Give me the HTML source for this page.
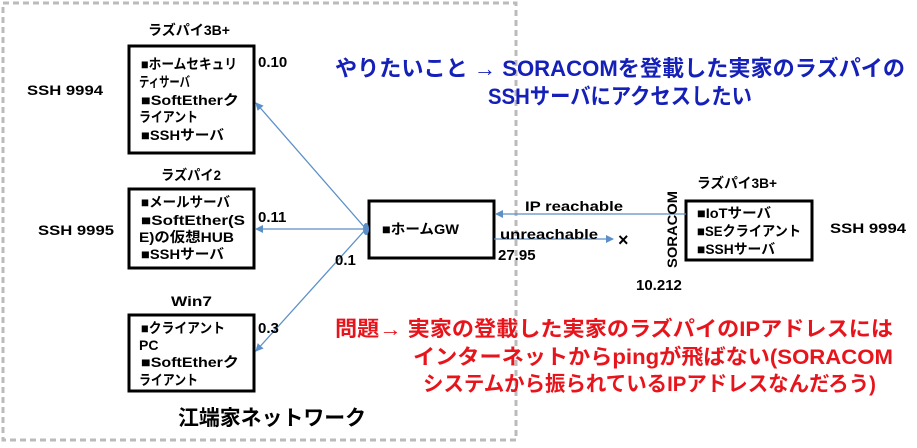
<!DOCTYPE html>
<html><head><meta charset="utf-8"><style>
html,body{margin:0;padding:0;background:#fff;}
svg{display:block;}
text{font-family:"Liberation Sans","Noto Sans CJK JP",sans-serif;font-weight:bold;}
</style></head><body>
<svg width="917" height="448" viewBox="0 0 917 448" xmlns="http://www.w3.org/2000/svg">
<defs>
<marker id="a" markerWidth="8" markerHeight="8" refX="7" refY="4" orient="auto" markerUnits="userSpaceOnUse"><path d="M0,0 L8,4 L0,8 Z" fill="#5b8fc8"/></marker>
</defs>
<rect x="3" y="3" width="513" height="437" fill="none" stroke="#bbb" stroke-width="3" stroke-dasharray="6,4"/>
<g fill="none" stroke="#000" stroke-width="3">
<rect x="129" y="46" width="125" height="107"/>
<rect x="129" y="189" width="125" height="79"/>
<rect x="129" y="315" width="125" height="76"/>
<rect x="369" y="201" width="125" height="57"/>
<rect x="686" y="201" width="126" height="59"/>
</g>
<g stroke="#5b8fc8" stroke-width="1.3" fill="none">
<line x1="366" y1="229" x2="256" y2="103" marker-end="url(#a)"/>
<line x1="366" y1="229" x2="256" y2="229" marker-end="url(#a)"/>
<line x1="366" y1="229" x2="256" y2="351" marker-end="url(#a)"/>
<line x1="686" y1="214" x2="496" y2="214" marker-end="url(#a)"/>
<line x1="494" y1="239" x2="613" y2="239" marker-end="url(#a)"/>
</g>
<ellipse cx="366" cy="229" rx="3" ry="6" fill="#5b8fc8"/>
<g font-size="14" fill="#000">
<text x="148" y="35" textLength="82" lengthAdjust="spacingAndGlyphs">ラズパイ3B+</text>
<text x="141" y="69" textLength="96" lengthAdjust="spacingAndGlyphs">■ホームセキュリ</text>
<text x="139" y="87" textLength="51" lengthAdjust="spacingAndGlyphs">ティサーバ</text>
<text x="141" y="105" textLength="98" lengthAdjust="spacingAndGlyphs">■SoftEtherク</text>
<text x="139" y="122" textLength="59" lengthAdjust="spacingAndGlyphs">ライアント</text>
<text x="141" y="140" textLength="83" lengthAdjust="spacingAndGlyphs">■SSHサーバ</text>
<text x="258" y="67" font-size="15">0.10</text>
<text x="27" y="95" textLength="76" lengthAdjust="spacingAndGlyphs">SSH 9994</text>
<text x="161" y="180" textLength="60" lengthAdjust="spacingAndGlyphs">ラズパイ2</text>
<text x="141" y="207" textLength="89" lengthAdjust="spacingAndGlyphs">■メールサーバ</text>
<text x="141" y="225" textLength="104" lengthAdjust="spacingAndGlyphs">■SoftEther(S</text>
<text x="139" y="242" textLength="95" lengthAdjust="spacingAndGlyphs">E)の仮想HUB</text>
<text x="141" y="259" textLength="83" lengthAdjust="spacingAndGlyphs">■SSHサーバ</text>
<text x="258" y="222" font-size="15">0.11</text>
<text x="38" y="235" textLength="76" lengthAdjust="spacingAndGlyphs">SSH 9995</text>
<text x="335" y="265" font-size="15">0.1</text>
<text x="171" y="306" textLength="41" lengthAdjust="spacingAndGlyphs">Win7</text>
<text x="141" y="333" textLength="84" lengthAdjust="spacingAndGlyphs">■クライアント</text>
<text x="139" y="350">PC</text>
<text x="141" y="367" textLength="98" lengthAdjust="spacingAndGlyphs">■SoftEtherク</text>
<text x="139" y="385" textLength="59" lengthAdjust="spacingAndGlyphs">ライアント</text>
<text x="258" y="333" font-size="15">0.3</text>
<text x="382" y="234" textLength="77" lengthAdjust="spacingAndGlyphs">■ホームGW</text>
<text x="525" y="211" textLength="98" lengthAdjust="spacingAndGlyphs">IP reachable</text>
<text x="500" y="239" textLength="98" lengthAdjust="spacingAndGlyphs">unreachable</text>
<text x="498" y="260" font-size="15">27.95</text>
<text x="618" y="246" font-weight="normal" font-size="18">×</text>
<text x="636" y="290" font-size="15">10.212</text>
<text x="697" y="188" textLength="80" lengthAdjust="spacingAndGlyphs">ラズパイ3B+</text>
<text x="697" y="218" textLength="74" lengthAdjust="spacingAndGlyphs">■IoTサーバ</text>
<text x="697" y="236" textLength="104" lengthAdjust="spacingAndGlyphs">■SEクライアント</text>
<text x="697" y="254" textLength="78" lengthAdjust="spacingAndGlyphs">■SSHサーバ</text>
<text x="830" y="233" textLength="76" lengthAdjust="spacingAndGlyphs">SSH 9994</text>
<text transform="translate(677,268) rotate(-90)" textLength="77" lengthAdjust="spacingAndGlyphs">SORACOM</text>
</g>
<text x="178" y="425" font-size="21" font-weight="normal" textLength="188" lengthAdjust="spacingAndGlyphs" fill="#000">江端家ネットワーク</text>
<g font-size="22" fill="#1420b8">
<text x="335" y="76" textLength="570" lengthAdjust="spacingAndGlyphs">やりたいこと → SORACOMを登載した実家のラズパイの</text>
<text x="488" y="104" textLength="264" lengthAdjust="spacingAndGlyphs">SSHサーバにアクセスしたい</text>
</g>
<g font-size="21" fill="#e8141c">
<text x="335" y="336" textLength="558" lengthAdjust="spacingAndGlyphs">問題→ 実家の登載した実家のラズパイのIPアドレスには</text>
<text x="413" y="364" textLength="480" lengthAdjust="spacingAndGlyphs">インターネットからpingが飛ばない(SORACOM</text>
<text x="423" y="391" textLength="453" lengthAdjust="spacingAndGlyphs">システムから振られているIPアドレスなんだろう)</text>
</g>
</svg>
</body></html>
